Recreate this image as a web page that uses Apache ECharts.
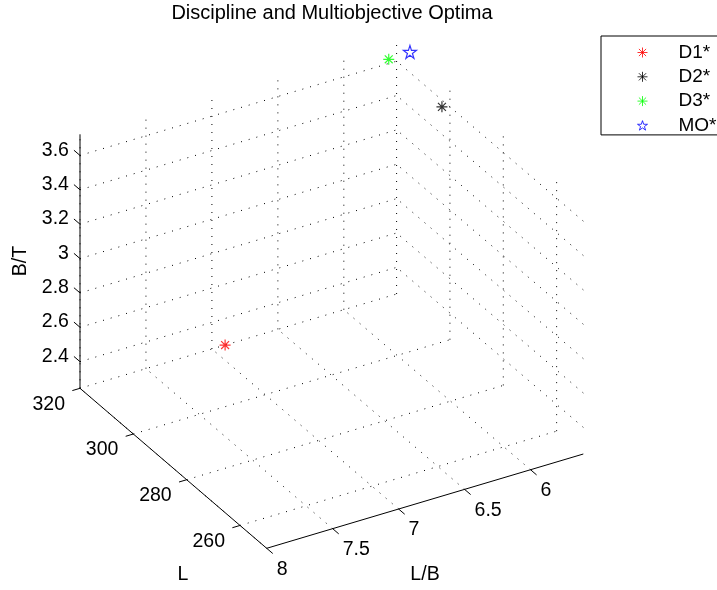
<!DOCTYPE html>
<html>
<head>
<meta charset="utf-8">
<script src="https://cdn.jsdelivr.net/npm/echarts@6/dist/echarts.min.js"></script>
<style>
html, body { margin: 0; padding: 0; background: #fff; }
#main { width: 717px; height: 590px; }
</style>
</head>
<body>
<div id="main"></div>
<script>
var dom = document.getElementById("main");
var chart = echarts.init(dom);

// optima
var pointNames = ["D1*", "D2*", "D3*", "MO*"];
var pointColors = ["#ff0000", "#000000", "#00ff00", "#0000ff"];
var lbValues = [6.9, 5.6, 5.7, 5.6];
var lValues = [320, 303, 318, 315];
var btValues = [2.245, 3.56, 3.66, 3.72];

// axes
var lbTicks = [6, 6.5, 7, 7.5, 8];
var lTicks = [260, 280, 300, 320];
var btTicks = [2.4, 2.6, 2.8, 3, 3.2, 3.4, 3.6];
var lbRange = [5.6, 8];
var lRange = [250, 320];
var btRange = [2.245, 3.723];

// orthographic view: screen offset of each unit box edge (x right, y up)
var view = { ex: [316.6, 94.3], ey: [-186.7, 160], ez: [0, 254] };

var FONT = "Liberation Sans, Arial, Helvetica, sans-serif";
var asterisk = "path://M0,-1L0,1M-1,0L1,0M-0.72,-0.72L0.72,0.72M-0.72,0.72L0.72,-0.72";
var pentagram = "path://M0,-1L0.2245,-0.309L0.951,-0.309L0.363,0.118L0.588,0.809L0,0.382L-0.588,0.809L-0.363,0.118L-0.951,-0.309L-0.2245,-0.309Z";

function project(lb, l, bt) {
  var nx = (lbRange[1] - lb) / (lbRange[1] - lbRange[0]);
  var ny = (l - lRange[0]) / (lRange[1] - lRange[0]);
  var nz = (bt - btRange[0]) / (btRange[1] - btRange[0]);
  return [
    nx * view.ex[0] + ny * view.ey[0] + nz * view.ez[0],
    nx * view.ex[1] + ny * view.ey[1] + nz * view.ez[1]
  ];
}

function seg(a, b) {
  var p = project(a[0], a[1], a[2]);
  var q = project(b[0], b[1], b[2]);
  return [p[0], p[1], q[0], q[1]];
}

var lbLo = lbRange[0], lbHi = lbRange[1];
var lLo = lRange[0], lHi = lRange[1];
var zLo = btRange[0], zHi = btRange[1];

// dotted grid on the floor and the two back walls
var gridSegs = [];
lbTicks.forEach(function (t) {
  gridSegs.push(seg([t, lLo, zLo], [t, lHi, zLo]));
  gridSegs.push(seg([t, lHi, zLo], [t, lHi, zHi]));
});
lTicks.forEach(function (t) {
  gridSegs.push(seg([lbHi, t, zLo], [lbLo, t, zLo]));
  gridSegs.push(seg([lbLo, t, zLo], [lbLo, t, zHi]));
});
btTicks.forEach(function (t) {
  gridSegs.push(seg([lbHi, lHi, t], [lbLo, lHi, t]));
  gridSegs.push(seg([lbLo, lLo, t], [lbLo, lHi, t]));
});

var axisSegs = [
  seg([lbHi, lHi, zLo], [lbHi, lHi, zHi]),
  seg([lbHi, lLo, zLo], [lbHi, lHi, zLo]),
  seg([lbHi, lLo, zLo], [lbLo, lLo, zLo])
];

// ticks: [u, v, direction point u, v, label, kind]
var tickItems = [];
btTicks.forEach(function (t) {
  var p = project(lbHi, lHi, t), d = project(lbHi, lHi + 10, t);
  tickItems.push([p[0], p[1], d[0], d[1], String(t), 0]);
});
lTicks.forEach(function (t) {
  var p = project(lbHi, t, zLo), d = project(lbHi + 0.5, t, zLo);
  tickItems.push([p[0], p[1], d[0], d[1], String(t), 1]);
});
lbTicks.forEach(function (t) {
  var p = project(t, lLo, zLo), d = project(t, lLo - 10, zLo);
  tickItems.push([p[0], p[1], d[0], d[1], String(t), 2]);
});

var corners = [];
[lbLo, lbHi].forEach(function (a) {
  [lLo, lHi].forEach(function (b) {
    [zLo, zHi].forEach(function (c) { corners.push(project(a, b, c)); });
  });
});
var uMin = Math.min.apply(null, corners.map(function (c) { return c[0]; }));
var uMax = Math.max.apply(null, corners.map(function (c) { return c[0]; }));
var vMin = Math.min.apply(null, corners.map(function (c) { return c[1]; }));
var vMax = Math.max.apply(null, corners.map(function (c) { return c[1]; }));

function renderSeg(dotted) {
  return function (params, api) {
    var p = api.coord([api.value(0), api.value(1)]);
    var q = api.coord([api.value(2), api.value(3)]);
    return {
      type: "line",
      shape: { x1: p[0], y1: p[1], x2: q[0], y2: q[1] },
      style: dotted
        ? { stroke: "#000", lineWidth: 1, lineDash: [1, 7] }
        : { stroke: "#000", lineWidth: 1 }
    };
  };
}

function renderTick(params, api) {
  var p = api.coord([api.value(0), api.value(1)]);
  var d = api.coord([api.value(2), api.value(3)]);
  var dx = d[0] - p[0], dy = d[1] - p[1];
  var len = Math.sqrt(dx * dx + dy * dy);
  var tx = p[0] + dx / len * 8, ty = p[1] + dy / len * 8;
  var kind = api.value(5);
  var label = tickItems[params.dataIndex][4];
  var lx, ly, align;
  if (kind === 0) { lx = tx - 5; ly = ty; align = "right"; }
  else if (kind === 1) { lx = p[0] - 15; ly = p[1] + 16; align = "right"; }
  else { lx = p[0] + 10; ly = p[1] + 21; align = "left"; }
  return {
    type: "group",
    children: [
      {
        type: "line",
        shape: { x1: p[0], y1: p[1], x2: tx, y2: ty },
        style: { stroke: "#000", lineWidth: 1 }
      },
      {
        type: "text",
        x: lx,
        y: ly,
        style: {
          text: label,
          fill: "#000",
          fontSize: 19.5,
          fontFamily: FONT,
          align: align,
          verticalAlign: "middle"
        }
      }
    ]
  };
}

var pointSeries = pointNames.map(function (name, i) {
  return {
    name: name,
    type: "scatter",
    z: 10,
    data: [project(lbValues[i], lValues[i], btValues[i])],
    symbol: name === "MO*" ? pentagram : asterisk,
    symbolSize: name === "MO*" ? 13 : 11,
    itemStyle: {
      color: "rgba(0,0,0,0)",
      borderColor: pointColors[i],
      borderWidth: 1.2
    },
    emphasis: { disabled: true }
  };
});

chart.setOption({
  animation: false,
  title: {
    text: "Discipline and Multiobjective Optima",
    left: 332,
    top: 3,
    padding: 0,
    textAlign: "center",
    textStyle: { fontSize: 20, fontWeight: "normal", color: "#000", fontFamily: FONT }
  },
  legend: {
    orient: "vertical",
    left: 601,
    top: 36,
    data: pointNames,
    borderColor: "#000",
    borderWidth: 1,
    borderRadius: 0,
    padding: [7, 50, 0, 36],
    itemGap: 5.3,
    itemWidth: 10,
    itemHeight: 10,
    selectedMode: false,
    itemStyle: { borderWidth: 1 },
    textStyle: {
      fontSize: 19,
      fontFamily: FONT,
      color: "#000",
      padding: [0, 0, 0, 26]
    }
  },
  grid: {
    left: 80,
    top: 40,
    width: uMax - uMin,
    height: vMax - vMin
  },
  xAxis: { type: "value", min: uMin, max: uMax, show: false },
  yAxis: { type: "value", min: vMin, max: vMax, show: false },
  graphic: [
    {
      type: "text", x: 21, y: 261, rotation: Math.PI / 2,
      style: { text: "B/T", fontSize: 19.5, fontFamily: FONT, fill: "#000", align: "center", verticalAlign: "middle" }
    },
    {
      type: "text", x: 183, y: 575,
      style: { text: "L", fontSize: 19.5, fontFamily: FONT, fill: "#000", align: "center", verticalAlign: "middle" }
    },
    {
      type: "text", x: 425, y: 575,
      style: { text: "L/B", fontSize: 19.5, fontFamily: FONT, fill: "#000", align: "center", verticalAlign: "middle" }
    }
  ],
  series: [
    {
      type: "custom",
      silent: true,
      renderItem: renderSeg(true),
      data: gridSegs,
      z: 1
    },
    {
      type: "custom",
      silent: true,
      renderItem: renderSeg(false),
      data: axisSegs,
      z: 2
    },
    {
      type: "custom",
      silent: true,
      renderItem: renderTick,
      data: tickItems.map(function (t) { return [t[0], t[1], t[2], t[3], 0, t[5]]; }),
      z: 2
    }
  ].concat(pointSeries)
});
</script>
</body>
</html>
